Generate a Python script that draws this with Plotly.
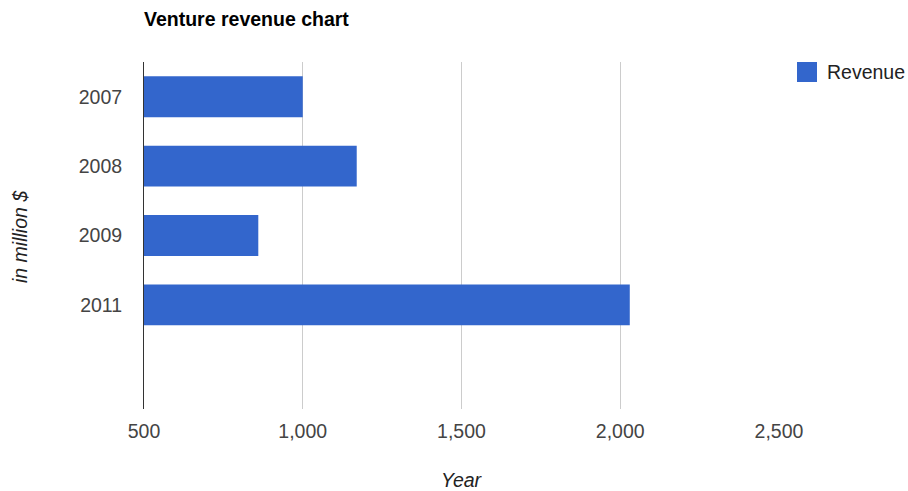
import plotly.graph_objects as go

# Chart data
years = ["2007", "2008", "2009", "2011"]
revenue = [1000, 1170, 860, 2030]
series_name = "Revenue"
x_ticks = [500, 1000, 1500, 2000, 2500]
x_tick_labels = ["500", "1,000", "1,500", "2,000", "2,500"]

BAR_COLOR = "#3366cc"
FONT = "Liberation Sans, Arial, sans-serif"
TEXT = "#222222"

fig = go.Figure()
fig.add_trace(go.Bar(
    x=revenue,
    y=years,
    orientation="h",
    marker=dict(color=BAR_COLOR, line=dict(width=0)),
    name=series_name,
    showlegend=False,
    hoverinfo="x+y",
))

L, R, T, B = 144, 129, 62, 82
W, H = 908, 491
plot_w = W - L - R
plot_h = H - T - B


def px_x(px):
    return (px - L) / plot_w


def px_y(py):
    return 1 - (py - T) / plot_h


fig.update_layout(
    width=W,
    height=H,
    margin=dict(l=L, r=R, t=T, b=B, pad=0),
    paper_bgcolor="white",
    plot_bgcolor="white",
    font=dict(family=FONT, size=19.5, color=TEXT),
    bargap=0.41,
    title=dict(
        text="<b>Venture revenue chart</b>",
        font=dict(family=FONT, size=19.5, color="#000000"),
        xref="paper", x=0, xanchor="left",
        yref="container", y=1 - 19 / H, yanchor="middle",
    ),
    xaxis=dict(
        range=[500, 2500],
        tickvals=x_ticks,
        ticktext=x_tick_labels,
        showgrid=True,
        gridcolor="#cccccc",
        gridwidth=1,
        zeroline=False,
        showline=False,
        ticks="",
        ticklabelstandoff=8,
        tickfont=dict(size=19.5, color="#444444"),
        fixedrange=True,
    ),
    yaxis=dict(
        type="category",
        categoryorder="array",
        categoryarray=years,
        range=[4.5, -0.5],
        showgrid=False,
        zeroline=False,
        showline=True,
        linecolor="#333333",
        linewidth=1,
        ticks="",
        ticklabelstandoff=17,
        tickfont=dict(size=19.5, color="#444444"),
        fixedrange=True,
    ),
    annotations=[
        dict(
            text="<i>Year</i>", xref="paper", yref="paper",
            x=0.5, y=px_y(480), xanchor="center", yanchor="middle",
            showarrow=False, font=dict(size=19.5, color="#222222"),
        ),
        dict(
            text="<i>in million $</i>", xref="paper", yref="paper",
            x=px_x(20), y=px_y(237), xanchor="center", yanchor="middle",
            textangle=-90, showarrow=False, font=dict(size=19.5, color="#222222"),
        ),
        dict(
            text=series_name, xref="paper", yref="paper",
            x=px_x(825), y=px_y(72), xanchor="left", yanchor="middle",
            showarrow=False, font=dict(size=19.5, color="#222222"),
        ),
    ],
    shapes=[
        dict(
            type="rect", xref="paper", yref="paper",
            x0=px_x(797), x1=px_x(817), y0=px_y(82), y1=px_y(62),
            fillcolor=BAR_COLOR, line=dict(width=0),
        ),
    ],
)

fig.write_html("out.html", include_plotlyjs=True, config={"displayModeBar": False})
